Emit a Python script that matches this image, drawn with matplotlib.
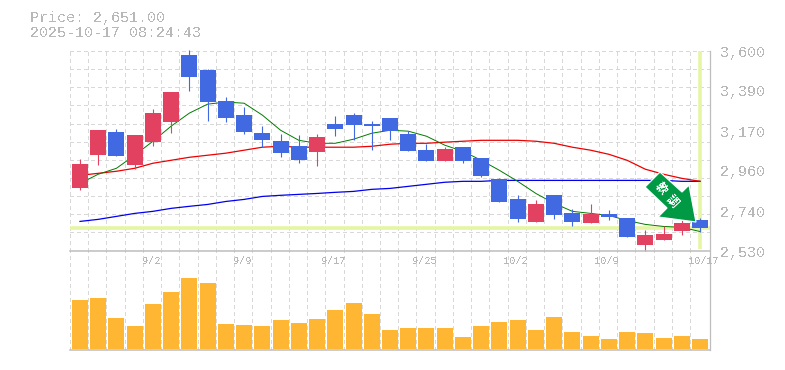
import matplotlib
matplotlib.use("Agg")
import matplotlib.pyplot as plt
from matplotlib.patches import Polygon, Rectangle
import numpy as np

plt.rcParams['font.family'] = ['Liberation Mono', 'Noto Sans CJK JP', 'DejaVu Sans']
plt.rcParams['text.antialiased'] = False

W, H = 785, 370

# candles, yen
opens = [2863, 3041, 3164, 2987, 3111, 3218, 3578, 3498, 3331, 3256, 3159, 3116, 3089, 3057, 3207, 3256, 3207, 3240,
         3154, 3068, 3009, 3084, 3025, 2912, 2804, 2681, 2826, 2729, 2675, 2724, 2702, 2557, 2584, 2632, 2691]
highs = [3019, 3175, 3181, 3148, 3288, 3380, 3605, 3503, 3353, 3299, 3197, 3154, 3148, 3154, 3250, 3267, 3224, 3240,
         3170, 3100, 3084, 3084, 3025, 2917, 2826, 2799, 2826, 2750, 2777, 2745, 2702, 2638, 2659, 2691, 2702]
lows = [2853, 2987, 3035, 2966, 3089, 3159, 3385, 3224, 3218, 3154, 3084, 3030, 2998, 2982, 3143, 3121, 3068, 3121,
        3062, 3009, 3009, 2998, 2922, 2788, 2681, 2681, 2697, 2664, 2675, 2691, 2600, 2525, 2584, 2611, 2627]
closes = [2992, 3175, 3035, 3148, 3267, 3380, 3460, 3326, 3240, 3164, 3121, 3052, 3014, 3138, 3181, 3202, 3197, 3170,
          3062, 3009, 3073, 3009, 2928, 2788, 2697, 2777, 2718, 2681, 2724, 2707, 2605, 2611, 2616, 2675, 2651]

ma_short = [2890, 2939, 2971, 3041, 3116, 3197, 3267, 3315, 3326, 3320, 3256, 3175, 3121, 3105, 3105, 3127, 3159, 3175,
            3170, 3143, 3095, 3062, 3014, 2960, 2901, 2836, 2783, 2740, 2729, 2718, 2691, 2670, 2659, 2654, 2632]
ma_mid = [2933, 2944, 2955, 2971, 2998, 3014, 3030, 3041, 3052, 3068, 3084, 3089, 3084, 3084, 3084, 3084, 3089, 3100,
          3105, 3105, 3111, 3116, 3121, 3121, 3121, 3116, 3105, 3084, 3068, 3046, 3014, 2966, 2939, 2917, 2901]
ma_long = [2686, 2697, 2713, 2729, 2740, 2756, 2767, 2777, 2793, 2804, 2820, 2826, 2831, 2836, 2842, 2847, 2858, 2863,
           2874, 2885, 2896, 2901, 2901, 2906, 2906, 2906, 2906, 2906, 2906, 2906, 2906, 2906, 2906, 2901, 2901]

# volume in relative units, the picture has no scale for it
volumes = [49, 51, 31, 23, 45, 57, 71, 66, 25, 24, 23, 29, 26, 30, 39, 46, 35, 19,
           21, 21, 21, 12, 23, 27, 29, 19, 32, 17, 13, 10, 17, 16, 11, 13, 10]

date_idx = [4, 9, 14, 19, 24, 29, 34]
date_labels = ['9/2', '9/9', '9/17', '9/25', '10/2', '10/9', '10/17']
price_ticks = [3600, 3390, 3170, 2960, 2740, 2530]
price_labels = ['3,600', '3,390', '3,170', '2,960', '2,740', '2,530']
last_price = 2651

UP = '#e2415f'
DOWN = '#4169e1'
GRID = '#d8d8d8'
AXIS = '#bdbdbd'
TEXT = '#b8b8b8'
MARK = '#e4f5a4'


def px_axes(x0, y0, x1, y1):
    return fig.add_axes([x0 / W, 1 - y1 / H, (x1 - x0) / W, (y1 - y0) / H])


fig = plt.figure(figsize=(W / 100, H / 100), dpi=100)
ax = px_axes(70, 51, 710, 250.5)
vol = px_axes(70, 250.5, 710, 350)

for a in (ax, vol):
    a.set_xlim(-0.548, 34.548)
    a.set_xticks([])
    a.set_yticks([])
    a.patch.set_alpha(0)
    for s in a.spines.values():
        s.set_visible(False)
    for k in range(35):
        a.axvline(k - 0.548, color=GRID, lw=0.75, ls=(0, (3, 3)), zorder=0, antialiased=False)

ax.set_ylim(2530, 3600)
vol.set_ylim(-1.5, 98)
for lev in np.linspace(2530, 3600, 12)[1:]:
    ax.axhline(lev, color=GRID, lw=0.75, ls=(0, (3, 3)), zorder=0, clip_on=False, antialiased=False)

ax.axhline(last_price, color=MARK, lw=2.6, zorder=1)
ax.plot([34, 34], [2540, 3600], color=MARK, lw=2.6, zorder=1, solid_capstyle='butt')

x = np.arange(len(opens))
ax.plot(x, ma_long, color='#0000ee', lw=0.9, zorder=2)
ax.plot(x, ma_mid, color='#ee0000', lw=0.9, zorder=2)
ax.plot(x, ma_short, color='#007a00', lw=0.7, zorder=2)

for i in x:
    c = UP if closes[i] >= opens[i] else DOWN
    ax.plot([i, i], [lows[i], highs[i]], color=c, lw=0.8, zorder=3, clip_on=False, solid_capstyle='butt')
    ax.add_patch(Rectangle((i - 0.44, min(opens[i], closes[i])), 0.88, abs(closes[i] - opens[i]),
                           facecolor=c, edgecolor='none', zorder=4, clip_on=False))

vol.bar(x, volumes, width=0.88, color='#ffb733', zorder=2)

# frame
vol.axhline(-1.5, color=AXIS, lw=1.1, clip_on=False)
vol.axhline(98, color=AXIS, lw=1.1, clip_on=False)
fig.add_artist(plt.Line2D([710 / W, 710 / W], [1 - 350 / H, 1 - 51 / H], color=AXIS, lw=0.9))

# signal arrow, figure pixels
arrow = [(660, 172), (682, 192), (689, 185), (696, 222), (658, 217), (667, 208), (645, 187)]
arrow_fig = [(px / W, 1 - py / H) for px, py in arrow]
fig.add_artist(Polygon(arrow_fig, closed=True, transform=fig.transFigure, facecolor='#009944',
                       edgecolor='white', lw=0.9, zorder=6))
for lab, px, py in [('軟', 661, 188), ('調', 672, 201)]:
    fig.text(px / W, 1 - py / H, lab, color='white', fontsize=8.5, rotation=-48, ha='center', va='center',
             rotation_mode='anchor', family=['Noto Sans CJK JP', 'DejaVu Sans'], fontweight='bold', zorder=7)

# texts
fig.text(30 / W, 1 - 18 / H, f'Price: {last_price:,.2f}', color=TEXT, fontsize=10.8, ha='left', va='center')
fig.text(30 / W, 1 - 33 / H, '2025-10-17 08:24:43', color=TEXT, fontsize=10.8, ha='left', va='center')
for t, lab in zip(price_ticks, price_labels):
    y = 51 + (3600 - t) / 1070 * 199.5 + 2
    fig.text(720 / W, 1 - y / H, lab, color=TEXT, fontsize=10.8, ha='left', va='center')
for i, lab in zip(date_idx, date_labels):
    xp = 80 + 18.235 * i
    # last label sits past its candle in the original
    xp += 4 if i == date_idx[-1] else -2
    fig.text(xp / W, 1 - 261 / H, lab, color=TEXT, fontsize=7.4, ha='center', va='center', zorder=5)

fig.savefig('out.png', dpi=100)
